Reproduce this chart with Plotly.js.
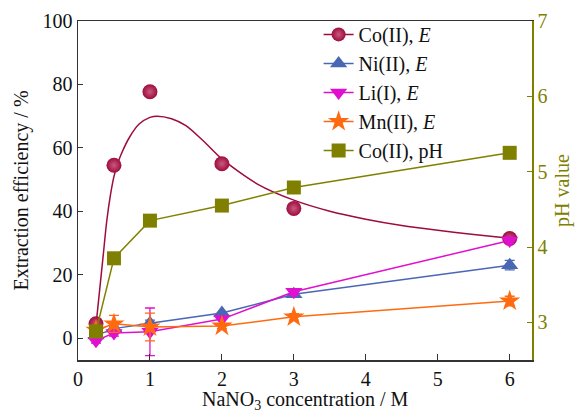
<!DOCTYPE html>
<html>
<head>
<meta charset="utf-8">
<script src="https://cdn.plot.ly/plotly-3.0.1.min.js"></script>
<style>html,body{margin:0;padding:0;background:#fff;}#chart{width:576px;height:412px;}</style>
</head>
<body>
<div id="chart"></div>
<script>
// NaNO3 concentration (M)
const conc = [0.25, 0.5, 1, 2, 3, 6];
// Extraction efficiency (%)
const coE = [4.5, 54.5, 77.7, 55, 40.9, 31.4];
const niE = [0.8, 3, 4.7, 7.9, 13.8, 23];
const liE = [-0.8, 1.6, 2, 6, 14.6, 30.8];
const mnE = [2.5, 4.5, 3.5, 3.8, 6.7, 11.7];
// error bars
const coErr = [1.0, 0, 0, 0, 0, 0];
const niErr = [0.8, 0.8, 1.0, 0, 0, 1.5];
const liErr = [0.8, 1.0, 7.5, 0, 1.0, 1.0];
const mnErr = [1.0, 2.7, 4.4, 0.8, 1.0, 1.5];
// pH of Co(II) system
const coPH = [2.88, 3.85, 4.35, 4.55, 4.79, 5.25];
// fitted curve for Co(II) E
const fitX = [0.25, 0.3, 0.35, 0.4, 0.45, 0.5, 0.55, 0.6, 0.72, 0.85, 1.0, 1.1, 1.3, 1.5, 1.75, 2.0, 2.5, 3.0, 3.5, 4.0, 4.5, 5.0, 5.5, 6.0];
const fitY = [4, 15, 26, 37, 45, 51, 55, 58, 63.5, 67.5, 69.6, 70, 69.2, 67, 62, 56.5, 48.5, 43.5, 40, 37.5, 35.5, 34, 32.7, 31.5];
// legend names and axis titles
const names = ["Co(II), <i>E</i>", "Ni(II), <i>E</i>", "Li(I), <i>E</i>", "Mn(II), <i>E</i>", "Co(II), pH"];
const xTitle = 'NaNO<sub>3</sub> concentration / M';
const yTitle = 'Extraction efficiency / %';
const y2Title = 'pH value';

const cCo = '#9E0C3E', cNi = '#4A67B3', cLi = '#E010D0', cMn = '#FF6A10', cPH = '#808000';
const FONT = 'Liberation Serif, Times New Roman, serif';

function eb(arr, color) {
  return {type: 'data', array: arr, visible: true, color: color, thickness: 1.3, width: 5};
}

const traces = [
  {x: fitX, y: fitY, mode: 'lines', line: {color: cCo, width: 1.5, shape: 'spline', smoothing: 0.8}, showlegend: false, hoverinfo: 'skip'},
  {x: conc, y: coE, mode: 'markers', showlegend: false, error_y: eb(coErr, cCo),
   marker: {symbol: 'circle', size: 15, color: cCo, gradient: {type: 'radial', color: '#c85a7c'}, line: {width: 0}}},
  {x: [null], y: [null], mode: 'lines+markers', name: names[0], line: {color: cCo, width: 1.5},
   marker: {symbol: 'circle', size: 14, color: cCo, gradient: {type: 'radial', color: '#c85a7c'}, line: {width: 0}}},
  {x: conc, y: niE, mode: 'lines+markers', name: names[1], line: {color: cNi, width: 1.5}, error_y: eb(niErr, cNi),
   marker: {symbol: 'triangle-up', size: 15, color: cNi}},
  {x: conc, y: liE, mode: 'lines+markers', name: names[2], line: {color: cLi, width: 1.5}, error_y: eb(liErr, cLi),
   marker: {symbol: 'triangle-down', size: 15, color: cLi}},
  {x: conc, y: mnE, mode: 'lines+markers', name: names[3], line: {color: cMn, width: 1.5}, error_y: eb(mnErr, cMn),
   marker: {symbol: 'star', size: 16, color: cMn}},
  {x: conc, y: coPH, mode: 'lines+markers', name: names[4], yaxis: 'y2', line: {color: cPH, width: 1.5},
   marker: {symbol: 'square', size: 14, color: cPH}}
];

const layout = {
  width: 576, height: 412,
  margin: {l: 78, r: 44, t: 21, b: 52},
  paper_bgcolor: '#fff', plot_bgcolor: '#fff',
  font: {family: FONT, size: 20, color: '#111'},
  showlegend: true,
  legend: {x: 0.53, y: 1.018, xanchor: 'left', yanchor: 'top', bgcolor: 'rgba(0,0,0,0)', font: {family: FONT, size: 20, color: '#111'}, tracegroupgap: 0},
  annotations: [
    {text: xTitle, xref: 'paper', yref: 'paper', x: 0.5, y: -0.118, xanchor: 'center', yanchor: 'middle', showarrow: false, font: {family: FONT, size: 20, color: '#111'}}
  ],
  xaxis: {
    range: [0, 6.31], tickvals: [0, 1, 2, 3, 4, 5, 6], ticks: 'inside', ticklen: 6, tickcolor: '#333',
    showline: true, linecolor: '#333', linewidth: 1.5, mirror: true, showgrid: false, zeroline: false,
    tickfont: {family: FONT, size: 20}
  },
  yaxis: {
    range: [-6.9, 100], tickvals: [0, 20, 40, 60, 80, 100], ticks: 'inside', ticklen: 5, tickcolor: '#333',
    showline: true, linecolor: '#333', linewidth: 1.5, showgrid: false, zeroline: false,
    tickfont: {family: FONT, size: 20},
    title: {text: yTitle, font: {family: FONT, size: 20}, standoff: 8}
  },
  yaxis2: {
    overlaying: 'y', side: 'right', range: [2.5, 7], tickvals: [3, 4, 5, 6, 7], ticks: 'inside', ticklen: 5,
    tickcolor: cPH, showline: true, linecolor: cPH, linewidth: 1.5, showgrid: false, zeroline: false,
    tickfont: {family: FONT, size: 20, color: cPH},
    title: {text: y2Title, font: {family: FONT, size: 20, color: cPH}, standoff: 8}
  }
};

Plotly.newPlot('chart', traces, layout, {staticPlot: true, displayModeBar: false});
</script>
</body>
</html>
